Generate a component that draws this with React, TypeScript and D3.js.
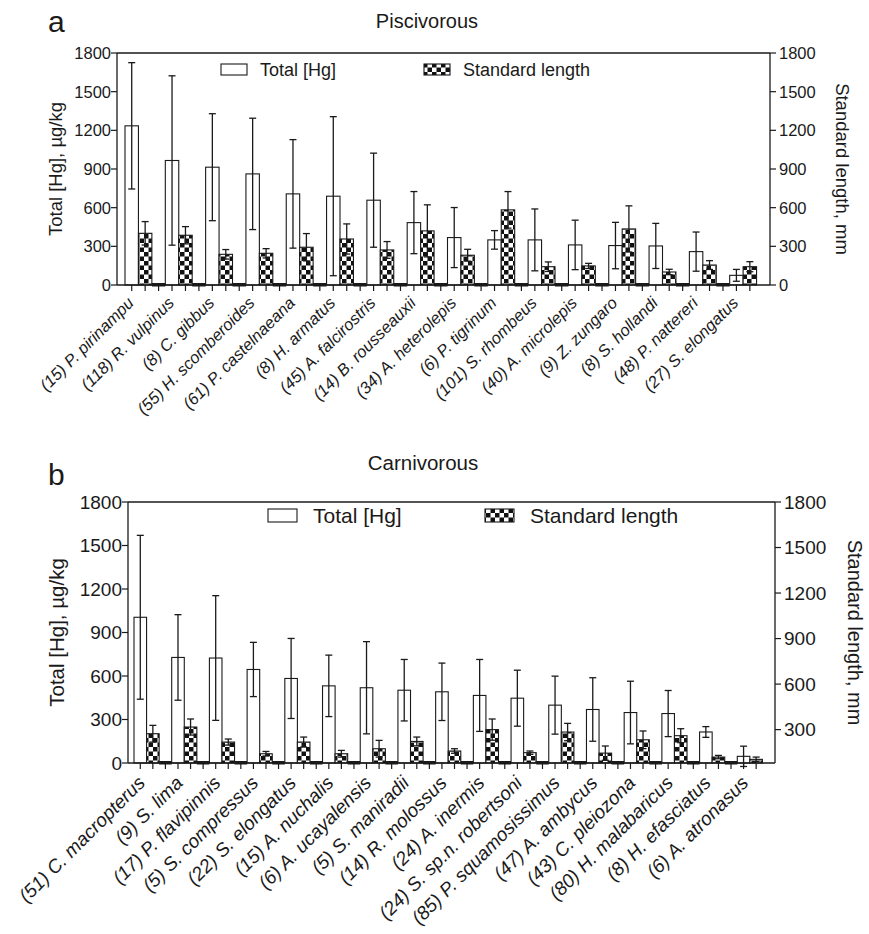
import React from "react";
import * as d3 from "d3";

// panel a - piscivorous
const piscNames = [
  "(15) P. pirinampu", "(118) R. vulpinus", "(8) C. gibbus", "(55) H. scomberoides",
  "(61) P. castelnaeana", "(8) H. armatus", "(45) A. falcirostris", "(14) B. rousseauxii",
  "(34) A. heterolepis", "(6) P. tigrinum", "(101) S. rhombeus", "(40) A. microlepis",
  "(9) Z. zungaro", "(8) S. hollandi", "(48) P. nattereri", "(27) S. elongatus",
];
const piscHg = [1235, 966, 914, 862, 707, 689, 658, 484, 368, 350, 350, 311, 306, 303, 259, 75];
const piscHgSd = [490, 657, 415, 432, 421, 617, 365, 241, 233, 72, 240, 192, 180, 175, 152, 46];
const piscSL = [401, 386, 238, 246, 293, 357, 272, 420, 231, 583, 142, 148, 435, 101, 155, 142];
const piscSLSd = [91, 67, 37, 36, 106, 117, 65, 202, 46, 142, 37, 20, 179, 21, 34, 39];

// panel b - carnivorous
const carnNames = [
  "(51) C. macropterus", "(9) S. lima", "(17) P. flavipinnis", "(5) S. compressus",
  "(22) S. elongatus", "(15) A. nuchalis", "(6) A. ucayalensis", "(5) S. maniradii",
  "(14) R. molossus", "(24) A. inermis", "(24) S. sp.n. robertsoni", "(85) P. squamosissimus",
  "(47) A. ambycus", "(43) C. pleiozona", "(80) H. malabaricus", "(8) H. efasciatus",
  "(6) A. atronasus",
];
const carnHg = [1005, 728, 724, 645, 583, 532, 519, 502, 491, 466, 447, 399, 369, 348, 341, 214, 46];
const carnHgSd = [565, 295, 430, 187, 276, 212, 318, 212, 198, 248, 193, 200, 219, 216, 159, 37, 70];
const carnSL = [273, 317, 218, 141, 218, 141, 174, 222, 159, 300, 148, 284, 145, 233, 260, 119, 104];
const carnSLSd = [55, 53, 20, 15, 33, 22, 55, 29, 15, 70, 11, 57, 47, 58, 46, 11, 15];

const leftTicks = [0, 300, 600, 900, 1200, 1500, 1800];
const rightTicksA = [0, 300, 600, 900, 1200, 1500, 1800];
const rightTicksB = [300, 600, 900, 1200, 1500, 1800];

const FONT = "'Liberation Sans', Arial, Helvetica, sans-serif";
const INK = "#1a1a1a";

type PanelProps = {
  letter: string;
  title: string;
  names: string[];
  hg: number[];
  hgSd: number[];
  sl: number[];
  slSd: number[];
  left: number;
  right: number;
  top: number;
  bottom: number;
  offset: number;
  rightDomain: [number, number];
  rightTicks: number[];
  fs: { tick: number; axis: number; rAxis: number; legend: number; title: number; cat: number; letter: number };
  layout: {
    letterY: number;
    titleX: number;
    titleY: number;
    leftTitleX: number;
    rightTitleX: number;
    legY: number;
    legH: number;
    legW: number;
    leg1X: number;
    leg2X: number;
    legGap: number;
    catDx: number;
    catDy: number;
  };
};

function Panel(p: PanelProps) {
  const n = p.names.length;
  const yL = d3.scaleLinear().domain([0, 1800]).range([p.bottom, p.top]);
  const yR = d3.scaleLinear().domain(p.rightDomain).range([p.bottom, p.top]);
  const x = d3
    .scaleBand<number>()
    .domain(d3.range(n * 3))
    .range([p.left + p.offset, p.right])
    .padding(0);
  const bw = x.bandwidth();
  const cap = 3.5;
  const L = p.layout;
  const midY = (p.top + p.bottom) / 2;

  const errBar = (cx: number, y1: number, y2: number, key: string) => (
    <g key={key} stroke={INK} strokeWidth={1.3}>
      <line x1={cx} x2={cx} y1={y1} y2={y2} />
      <line x1={cx - cap} x2={cx + cap} y1={y1} y2={y1} />
      <line x1={cx - cap} x2={cx + cap} y1={y2} y2={y2} />
    </g>
  );

  return (
    <g fontFamily={FONT} fill={INK}>
      <text x={48} y={L.letterY} fontSize={p.fs.letter}>{p.letter}</text>
      <text x={L.titleX} y={L.titleY} fontSize={p.fs.title} textAnchor="middle">{p.title}</text>

      {/* bars */}
      {p.names.map((name, i) => {
        const xh = x(i * 3)!;
        const xs = x(i * 3 + 1)!;
        const xz = x(i * 3 + 2)!;
        return (
          <g key={name}>
            <rect x={xh} y={yL(p.hg[i])} width={bw} height={p.bottom - yL(p.hg[i])}
              fill="#fff" stroke={INK} strokeWidth={1.1} />
            {errBar(xh + bw / 2, yL(p.hg[i] + p.hgSd[i]), yL(p.hg[i] - p.hgSd[i]), "eh")}
            <rect x={xs} y={yR(p.sl[i])} width={bw} height={p.bottom - yR(p.sl[i])}
              fill="url(#checker)" stroke={INK} strokeWidth={1.1} />
            {errBar(xs + bw / 2, yR(p.sl[i] + p.slSd[i]), yR(p.sl[i] - p.slSd[i]), "es")}
            {i < n - 1 && (
              <rect x={xz} y={p.bottom - 2} width={bw} height={3.5} fill={INK} />
            )}
          </g>
        );
      })}

      {/* frame */}
      <g stroke={INK} strokeWidth={1.3} fill="none">
        <line x1={p.left} x2={p.right} y1={p.top} y2={p.top} />
        <line x1={p.left} x2={p.right} y1={p.bottom} y2={p.bottom} />
        <line x1={p.left} x2={p.left} y1={p.top} y2={p.bottom} />
        <line x1={p.right} x2={p.right} y1={p.top} y2={p.bottom} />
      </g>

      {/* x ticks */}
      <g stroke={INK} strokeWidth={1.2}>
        {d3.range(n * 3 - 1).map((s) => (
          <line key={s} x1={x(s)! + bw / 2} x2={x(s)! + bw / 2} y1={p.bottom} y2={p.bottom + 6} />
        ))}
      </g>

      {/* left axis */}
      {leftTicks.map((t) => (
        <g key={"l" + t}>
          <line x1={p.left - 6} x2={p.left} y1={yL(t)} y2={yL(t)} stroke={INK} strokeWidth={1.2} />
          <text x={p.left - 6} y={yL(t)} dy="0.36em" textAnchor="end" fontSize={p.fs.tick}>{t}</text>
        </g>
      ))}
      {/* right axis */}
      {p.rightTicks.map((t) => (
        <g key={"r" + t}>
          <line x1={p.right} x2={p.right + 6} y1={yR(t)} y2={yR(t)} stroke={INK} strokeWidth={1.2} />
          <text x={p.right + 9} y={yR(t)} dy="0.36em" fontSize={p.fs.tick}>{t}</text>
        </g>
      ))}

      <text transform={`translate(${L.leftTitleX},${midY}) rotate(-90)`} textAnchor="middle"
        dy="0.36em" fontSize={p.fs.axis}>Total [Hg], µg/kg</text>
      <text transform={`translate(${L.rightTitleX},${midY}) rotate(90)`} textAnchor="middle"
        dy="0.36em" fontSize={p.fs.rAxis}>Standard length, mm</text>

      {/* legend */}
      <rect x={L.leg1X} y={L.legY} width={L.legW} height={L.legH} fill="#fff" stroke={INK} strokeWidth={1.1} />
      <text x={L.leg1X + L.legW + L.legGap} y={L.legY + L.legH / 2} dy="0.36em" fontSize={p.fs.legend}>Total [Hg]</text>
      <rect x={L.leg2X} y={L.legY} width={L.legW} height={L.legH} fill="url(#checker)" stroke={INK} strokeWidth={1.1} />
      <text x={L.leg2X + L.legW + L.legGap} y={L.legY + L.legH / 2} dy="0.36em" fontSize={p.fs.legend}>Standard length</text>

      {/* category labels */}
      {p.names.map((name, i) => {
        const cx = x(i * 3)! + bw / 2 + L.catDx;
        const cy = p.bottom + L.catDy;
        return (
          <text key={"c" + name} transform={`translate(${cx},${cy}) rotate(-45)`} textAnchor="end"
            fontStyle="italic" fontSize={p.fs.cat}>{name}</text>
        );
      })}
    </g>
  );
}

export default function App() {
  return (
    <svg width={869} height={934} style={{ position: "absolute", left: 0, top: 0, background: "#fff" }}>
      <defs>
        <pattern id="checker" patternUnits="userSpaceOnUse" width={9} height={9}>
          <rect width={9} height={9} fill="#fff" />
          <rect width={4.5} height={4.5} fill="#111" />
          <rect x={4.5} y={4.5} width={4.5} height={4.5} fill="#111" />
        </pattern>
      </defs>
      <rect width={869} height={934} fill="#fff" />
      <Panel
        letter="a"
        title="Piscivorous"
        names={piscNames}
        hg={piscHg}
        hgSd={piscHgSd}
        sl={piscSL}
        slSd={piscSLSd}
        left={117}
        right={770}
        top={53}
        bottom={285}
        offset={8}
        rightDomain={[0, 1800]}
        rightTicks={rightTicksA}
        fs={{ tick: 16.5, axis: 18.5, rAxis: 18.5, legend: 18, title: 20, cat: 16.5, letter: 30 }}
        layout={{
          letterY: 32, titleX: 427, titleY: 28, leftTitleX: 55, rightTitleX: 843,
          legY: 64, legH: 11, legW: 26, leg1X: 221, leg2X: 424, legGap: 13,
          catDx: 3, catDy: 19,
        }}
      />
      <Panel
        letter="b"
        title="Carnivorous"
        names={carnNames}
        hg={carnHg}
        hgSd={carnHgSd}
        sl={carnSL}
        slSd={carnSLSd}
        left={128}
        right={775}
        top={502}
        bottom={763}
        offset={6}
        rightDomain={[80, 1800]}
        rightTicks={rightTicksB}
        fs={{ tick: 19, axis: 20.5, rAxis: 20, legend: 21, title: 20.5, cat: 19, letter: 30 }}
        layout={{
          letterY: 485, titleX: 423, titleY: 470, leftTitleX: 57, rightTitleX: 855,
          legY: 509, legH: 13, legW: 29, leg1X: 268, leg2X: 485, legGap: 16,
          catDx: 6, catDy: 21,
        }}
      />
    </svg>
  );
}
